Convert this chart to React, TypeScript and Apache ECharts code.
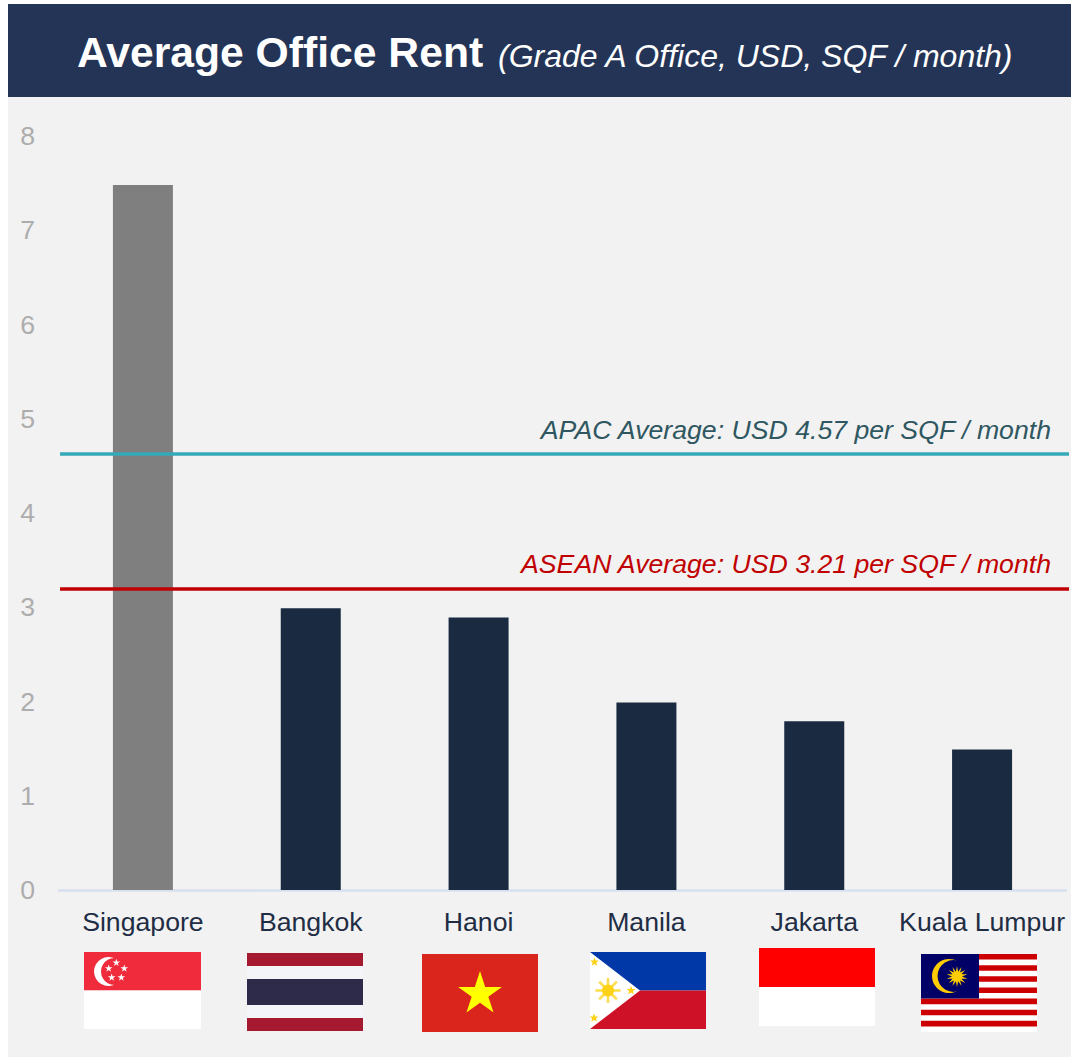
import React, { useEffect, useRef } from "react";
import * as echarts from "echarts";

const categories = ["Singapore", "Bangkok", "Hanoi", "Manila", "Jakarta", "Kuala Lumpur"];
const rentValues = [7.48, 2.99, 2.89, 1.99, 1.79, 1.49];
const barColors = ["#7f7f7f", "#1a2a40", "#1a2a40", "#1a2a40", "#1a2a40", "#1a2a40"];
const apacLevel = 4.63;
const aseanLevel = 3.2;
const apacText = "APAC Average: USD 4.57 per SQF / month";
const aseanText = "ASEAN Average: USD 3.21 per SQF / month";
const titleMain = "Average Office Rent";
const titleSub = "(Grade A Office, USD, SQF / month)";

const FONT = '"Liberation Sans", Arial, sans-serif';

const rect = (x: number, y: number, width: number, height: number, fill: string) => ({
  type: "rect",
  silent: true,
  shape: { x, y, width, height },
  style: { fill },
});
const circle = (cx: number, cy: number, r: number, fill: string) => ({
  type: "circle",
  silent: true,
  shape: { cx, cy, r },
  style: { fill },
});
const starPoints = (cx: number, cy: number, outer: number, inner: number, n: number, rot = -Math.PI / 2) => {
  const pts: number[][] = [];
  for (let i = 0; i < n * 2; i++) {
    const r = i % 2 === 0 ? outer : inner;
    const a = rot + (i * Math.PI) / n;
    pts.push([cx + r * Math.cos(a), cy + r * Math.sin(a)]);
  }
  return pts;
};
const star = (cx: number, cy: number, outer: number, fill: string, inner = outer * 0.382, n = 5) => ({
  type: "polygon",
  silent: true,
  shape: { points: starPoints(cx, cy, outer, inner, n) },
  style: { fill },
});

function flags() {
  const out: any[] = [];
  // Singapore
  out.push(rect(84, 952, 117, 38.5, "#ef2b3c"), rect(84, 990.5, 117, 38.5, "#ffffff"));
  out.push(circle(108.5, 971.5, 14.5, "#ffffff"), circle(114.5, 971.5, 13.5, "#ef2b3c"));
  [
    [116.3, 962.7],
    [124.3, 968.5],
    [121.3, 977.5],
    [111.7, 977.5],
    [108.7, 968.5],
  ].forEach(([x, y]) => out.push(star(x, y, 4, "#ffffff")));
  // Thailand
  out.push(
    rect(247, 953, 116, 13, "#a51931"),
    rect(247, 966, 116, 13, "#f4f5f8"),
    rect(247, 979, 116, 26, "#2d2a4a"),
    rect(247, 1005, 116, 13, "#f4f5f8"),
    rect(247, 1018, 116, 13, "#a51931"),
  );
  // Vietnam
  out.push(rect(422, 954, 116, 78, "#da251d"), star(480, 994, 23, "#ffff00"));
  // Philippines
  out.push(rect(590, 952, 116, 38.5, "#0038a8"), rect(590, 990.5, 116, 38.5, "#ce1126"));
  out.push({
    type: "polygon",
    silent: true,
    shape: { points: [[590, 952], [640, 990.5], [590, 1029]] },
    style: { fill: "#ffffff" },
  });
  for (let i = 0; i < 8; i++) {
    const a = (i * Math.PI) / 4;
    out.push({
      type: "line",
      silent: true,
      shape: {
        x1: 608 + 5 * Math.cos(a),
        y1: 990.5 + 5 * Math.sin(a),
        x2: 608 + 12.5 * Math.cos(a),
        y2: 990.5 + 12.5 * Math.sin(a),
      },
      style: { stroke: "#fcd116", lineWidth: 2.6, opacity: 0.75 },
    });
  }
  out.push(circle(608, 990.5, 6, "#fcd116"));
  out.push(star(594.5, 962, 4.6, "#fcd116", 2), star(631, 990.5, 4.6, "#fcd116", 2), star(594, 1018, 4.6, "#fcd116", 2));
  // Indonesia
  out.push(rect(759, 948, 116, 39, "#ff0000"), rect(759, 987, 116, 39, "#ffffff"));
  // Malaysia
  out.push(rect(921, 954, 116, 78, "#ffffff"));
  const stripe = 78 / 14;
  for (let i = 0; i < 7; i++) out.push(rect(921, 954 + i * 2 * stripe, 116, stripe, "#cc0001"));
  out.push(rect(921, 954, 58, stripe * 8, "#010066"));
  out.push(circle(949, 976, 17, "#ffcc00"), circle(953.5, 976, 16, "#010066"));
  out.push(star(957, 976.5, 10.5, "#ffcc00", 5, 14));
  return out;
}

export default function App() {
  const ref = useRef<HTMLDivElement>(null);
  useEffect(() => {
    const chart = echarts.init(ref.current!, undefined, { renderer: "svg" });
    chart.setOption({
      animation: false,
      backgroundColor: "#ffffff",
      textStyle: { fontFamily: FONT },
      title: [
        {
          left: 77,
          top: 30,
          padding: 0,
          text: titleMain,
          textStyle: { fontFamily: FONT, fontSize: 42.67, fontWeight: "bold", color: "#ffffff" },
        },
        {
          left: 498,
          top: 40,
          padding: 0,
          text: titleSub,
          textStyle: { fontFamily: FONT, fontSize: 32, fontWeight: "normal", fontStyle: "italic", color: "#ffffff" },
        },
      ],
      grid: { left: 59, top: 136, width: 1007, height: 754, containLabel: false },
      xAxis: {
        type: "category",
        data: categories,
        axisLine: { lineStyle: { color: "#d6e0f0", width: 2.5 } },
        axisTick: { show: false },
        axisLabel: { color: "#1f2d45", fontSize: 26.67, margin: 18, fontFamily: FONT, interval: 0 },
      },
      yAxis: {
        type: "value",
        min: 0,
        max: 8,
        interval: 1,
        splitLine: { show: false },
        axisLine: { show: false },
        axisTick: { show: false },
        axisLabel: { color: "#adadad", fontSize: 26.67, margin: 24, fontFamily: FONT, padding: [2, 0, 0, 0] },
      },
      series: [
        {
          type: "bar",
          barWidth: 60,
          data: rentValues.map((value, i) => ({ value, itemStyle: { color: barColors[i] } })),
          markLine: {
            silent: true,
            symbol: "none",
            animation: false,
            data: [
              [
                {
                  yAxis: apacLevel,
                  x: 60,
                  lineStyle: { color: "#36a9b7", width: 3.5, type: "solid" },
                  label: {
                    show: true,
                    formatter: apacText,
                    position: "insideEndTop",
                    distance: [18, 10],
                    color: "#2f5761",
                    fontSize: 26.67,
                    fontStyle: "italic",
                    fontFamily: FONT,
                  },
                },
                { yAxis: apacLevel, x: 1069 },
              ],
              [
                {
                  yAxis: aseanLevel,
                  x: 60,
                  lineStyle: { color: "#c00000", width: 3.5, type: "solid" },
                  label: {
                    show: true,
                    formatter: aseanText,
                    position: "insideEndTop",
                    distance: [18, 11],
                    color: "#c00000",
                    fontSize: 26.67,
                    fontStyle: "italic",
                    fontFamily: FONT,
                  },
                },
                { yAxis: aseanLevel, x: 1069 },
              ],
            ],
          },
        },
      ],
      graphic: {
        elements: [
          { ...rect(8, 4, 1063, 93, "#243457"), z: -2 },
          { ...rect(8, 97, 1063, 960, "#f2f2f2"), z: -2 },
          ...flags().map((e) => ({ ...e, z: 5 })),
        ],
      },
    });
    return () => chart.dispose();
  }, []);
  return <div ref={ref} style={{ position: "absolute", left: 0, top: 0, width: 1071, height: 1057 }} />;
}
